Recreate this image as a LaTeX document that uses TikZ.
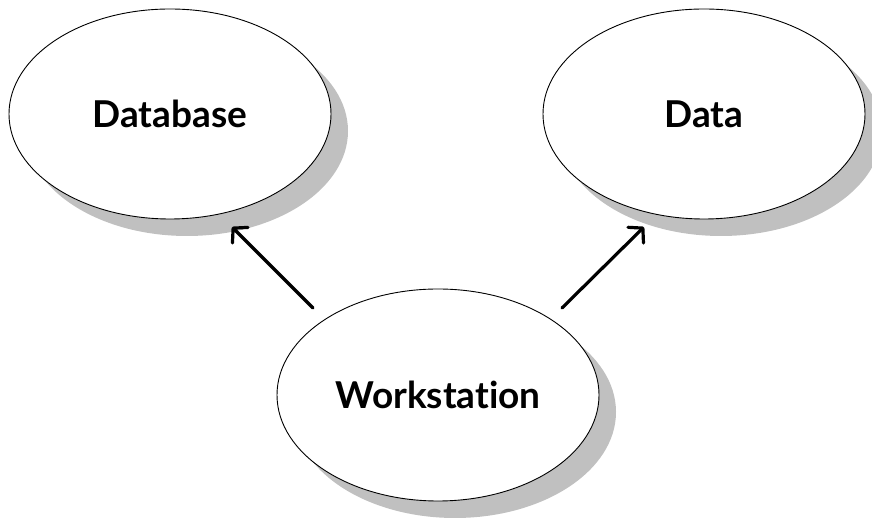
\documentclass[tikz,border=0pt]{standalone}
\usepackage{fontspec}
\setmainfont{Lato}[Ligatures={NoCommon}]
\usetikzlibrary{arrows.meta, shapes.geometric, shadows}

\definecolor{shadowgray}{HTML}{C0C0C0}

\begin{document}
\begin{tikzpicture}[
    x=1pt, y=1pt,
    bubble/.style = {ellipse, draw, line width=0.9pt, fill=white, inner sep=0pt,
      minimum width=322pt, minimum height=210pt,
      font=\fontsize{37}{44}\selectfont\bfseries,
      drop shadow={shadow xshift=17pt, shadow yshift=-17pt, fill=shadowgray, opacity=1}},
    arrow/.style = {line width=3.2pt, line cap=round, -{Straight Barb[length=10pt, width=22pt, round]}}
  ]
  \useasboundingbox (0,0) rectangle (872,518);

  % Upper bubbles
  \node[bubble] (database) at (170,404) {Database};
  \node[bubble] (data) at (704,404) {Data};

  % Workstation below, between them
  \node[bubble, minimum height=212pt] (workstation) at (438,123) {Workstation};

  % Arrows from workstation up to the two bubbles
  \draw[arrow] ([shift={(-125pt,87pt)}]workstation.center) -- ([shift={(62pt,-113pt)}]database.center);
  \draw[arrow] ([shift={(124pt,87pt)}]workstation.center) -- ([shift={(-60pt,-113pt)}]data.center);

\end{tikzpicture}
\end{document}
